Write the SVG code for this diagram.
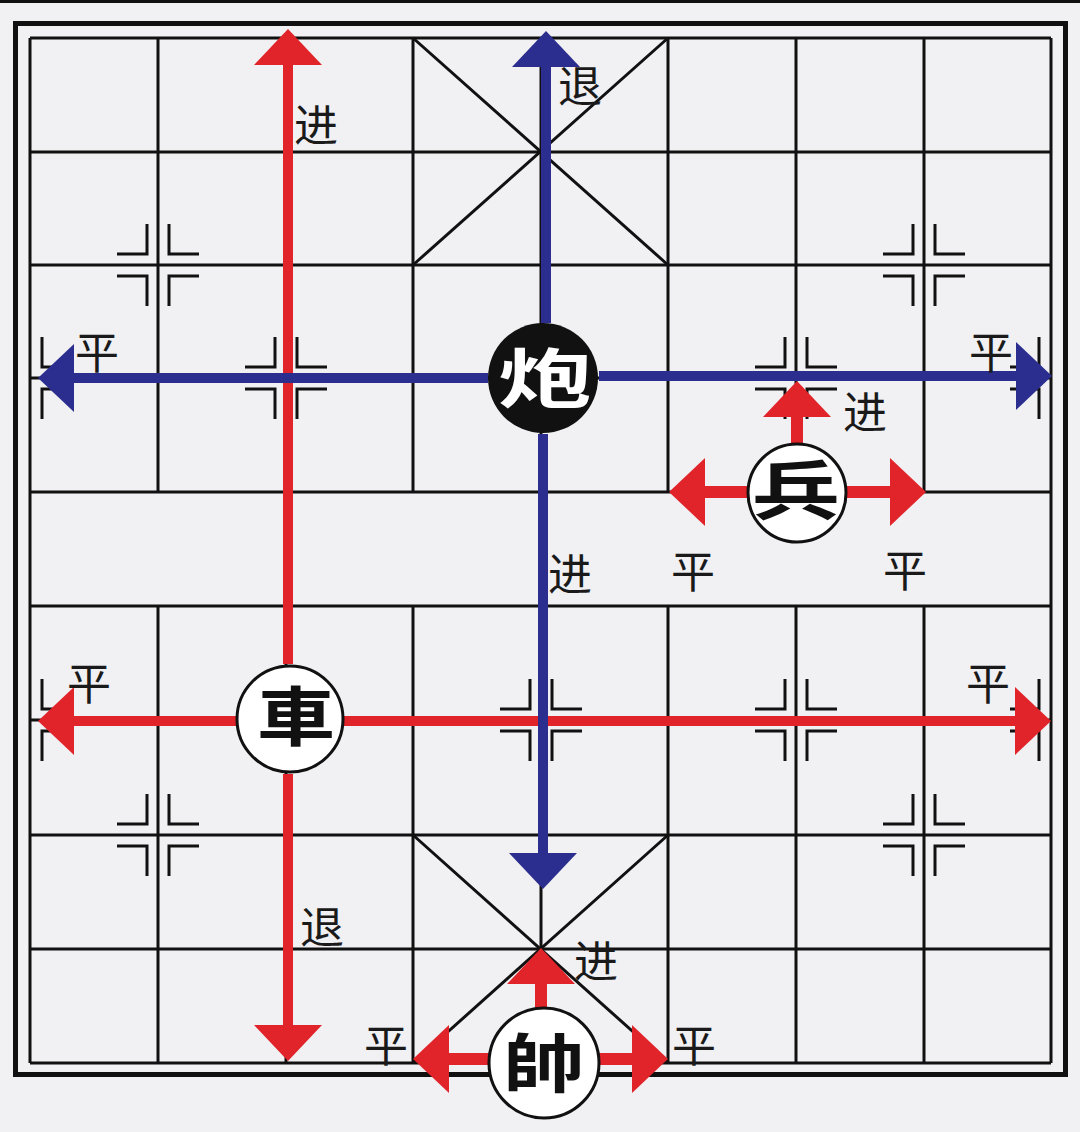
<svg xmlns="http://www.w3.org/2000/svg" width="1080" height="1132" viewBox="0 0 1080 1132">
<style>
.bg{fill:#f1f0f3}
.grid{stroke:#111;stroke-width:3;fill:none}
.mk{stroke:#111;stroke-width:3;fill:none}
.red{stroke:#e0242a;fill:none}
.blue{stroke:#2b2e8e;fill:none}
.big{stroke-width:10}
.small{stroke-width:12}
.lbl{font-family:"Noto Sans CJK SC","Noto Sans",sans-serif;font-size:44px;fill:#1a1a1a;text-anchor:middle}
.pc{font-family:"Noto Sans CJK SC","Noto Sans",sans-serif;font-size:64px;font-weight:700}
.wp{fill:#fff;stroke:#111;stroke-width:3}
</style>
<defs>
<marker id="hr" viewBox="0 0 36 68" refX="1" refY="34" markerWidth="36" markerHeight="68" markerUnits="userSpaceOnUse" orient="auto">
<path d="M0,0 L36,34 L0,68 Z" fill="#e0242a"/>
</marker>
<marker id="hb" viewBox="0 0 36 68" refX="1" refY="34" markerWidth="36" markerHeight="68" markerUnits="userSpaceOnUse" orient="auto">
<path d="M0,0 L36,34 L0,68 Z" fill="#2b2e8e"/>
</marker>
<path id="mk" d="M-11,-41V-11H-41M11,-41V-11H41M-11,41V11H-41M11,41V11H41"/>
<path id="mkR" d="M12,-41V-11H41M12,41V11H41"/>
<path id="mkL" d="M-12,-41V-11H-41M-12,41V11H-41"/>
</defs>
<rect class="bg" x="0" y="0" width="1080" height="1132"/>
<rect x="0" y="0" width="1080" height="3" fill="#111"/>
<g id="board">
<rect x="15.5" y="23.5" width="1050" height="1051" fill="none" stroke="#111" stroke-width="5"/>
<g class="grid">
<path d="M30,38H1051M30,152H1051M30,265H1051M30,378H1051M30,492H1051M30,606H1051M30,720H1051M30,835H1051M30,949H1051M30,1063H1051"/>
<path d="M30,38V1063M1051,38V1063"/>
<path d="M158,38V492M286,38V492M413,38V492M541,38V492M668,38V492M796,38V492M924,38V492"/>
<path d="M158,606V1063M286,606V1063M413,606V1063M541,606V1063M668,606V1063M796,606V1063M924,606V1063"/>
<path d="M413,38L668,265M668,38L413,265M413,835L668,1063M668,835L413,1063"/>
</g>
<g class="mk">
<use href="#mk" x="158" y="265"/>
<use href="#mk" x="924" y="265"/>
<use href="#mkR" x="30" y="378"/>
<use href="#mk" x="286" y="378"/>
<use href="#mk" x="796" y="378"/>
<use href="#mkL" x="1051" y="378"/>
<use href="#mkR" x="30" y="720"/>
<use href="#mk" x="541" y="720"/>
<use href="#mk" x="796" y="720"/>
<use href="#mkL" x="1051" y="720"/>
<use href="#mk" x="158" y="835"/>
<use href="#mk" x="924" y="835"/>
</g>
</g>
<g id="connectors">
<path class="red big" d="M288,664V64" marker-end="url(#hr)"/>
<path class="red big" d="M288,774V1026" marker-end="url(#hr)"/>
<path class="red big" d="M238,721H73" marker-end="url(#hr)"/>
<path class="red big" d="M343,721H1016" marker-end="url(#hr)"/>
<path class="blue big" d="M546,323V66" marker-end="url(#hb)"/>
<path class="blue big" d="M543,434V854" marker-end="url(#hb)"/>
<path class="blue big" d="M488,378H73" marker-end="url(#hb)"/>
<path class="blue big" d="M599,376H1017" marker-end="url(#hb)"/>
<path class="red small" d="M797,444V416" marker-end="url(#hr)"/>
<path class="red small" d="M846,492H891" marker-end="url(#hr)"/>
<path class="red small" d="M748,492H704" marker-end="url(#hr)"/>
<path class="red small" d="M541,1008V983" marker-end="url(#hr)"/>
<path class="red small" d="M489,1059H448" marker-end="url(#hr)"/>
<path class="red small" d="M599,1059H633" marker-end="url(#hr)"/>
</g>
<g id="labels">
<text class="lbl" x="316" y="142">进</text>
<text class="lbl" x="580" y="103">退</text>
<text class="lbl" x="97" y="369">平</text>
<text class="lbl" x="991" y="369">平</text>
<text class="lbl" x="865" y="429">进</text>
<text class="lbl" x="570" y="591">进</text>
<text class="lbl" x="693" y="588">平</text>
<text class="lbl" x="905" y="587">平</text>
<text class="lbl" x="89" y="700">平</text>
<text class="lbl" x="988" y="700">平</text>
<text class="lbl" x="322" y="944">退</text>
<text class="lbl" x="596" y="978">进</text>
<text class="lbl" x="386" y="1062">平</text>
<text class="lbl" x="694" y="1062">平</text>
</g>
<g id="cannon">
<circle cx="543" cy="378" r="55" fill="#111"/>
<text class="pc" x="498" y="402" fill="#fff" textLength="94" lengthAdjust="spacingAndGlyphs">炮</text>
</g>
<g id="soldier">
<circle class="wp" cx="797" cy="493" r="49"/>
<text class="pc" x="752" y="514" fill="#111" textLength="88" lengthAdjust="spacingAndGlyphs">兵</text>
</g>
<g id="chariot">
<circle class="wp" cx="290" cy="719" r="53"/>
<text class="pc" x="257" y="740" fill="#111" textLength="78" lengthAdjust="spacingAndGlyphs">車</text>
</g>
<g id="general">
<circle class="wp" cx="544" cy="1063" r="55"/>
<text class="pc" x="503" y="1087" fill="#111" textLength="82" lengthAdjust="spacingAndGlyphs">帥</text>
</g>
</svg>
